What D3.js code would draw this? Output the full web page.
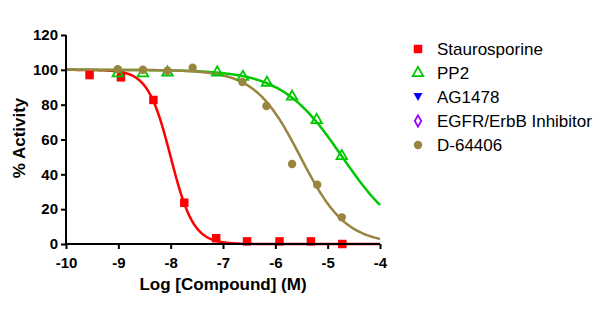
<!DOCTYPE html>
<html>
<head>
<meta charset="utf-8">
<script src="https://cdn.jsdelivr.net/npm/d3@7"></script>
<style>
  body { margin: 0; background: #fff; }
  svg { font-family: "Liberation Sans", Arial, sans-serif; }
</style>
</head>
<body>
<svg></svg>
<script>
var width = 600,
    height = 323;
var svg = d3.select("svg")
    .attr("width", width)
    .attr("height", height);

// data
var compounds = ["Staurosporine", "PP2", "AG1478", "EGFR/ErbB Inhibitor", "D-64406"];
var colors = ["#ff0000", "#00c800", "#0000ff", "#a000ff", "#9a8540"];
var symbols = ["square", "triangle", "triangleDown", "diamond", "circle"];

var stauroX = [-9.55, -8.95, -8.33, -7.74, -7.13, -6.54, -5.92, -5.32, -4.72];
var stauroY = [97, 95.7, 82.7, 23.7, 3.3, 1.5, 1.5, 1.5, 0];
var pp2X = [-9.01, -8.53, -8.06, -7.11, -6.62, -6.16, -5.68, -5.21, -4.73];
var pp2Y = [98, 98, 98.5, 98.5, 96, 92.6, 84.6, 71.2, 50.5];
var d64X = [-9.01, -8.53, -8.06, -7.58, -6.63, -6.17, -5.68, -5.2, -4.73];
var d64Y = [100.4, 100, 99.5, 101.2, 93, 79.2, 45.9, 34, 15.3];

// fitted curve parameters (top, bottom, logIC50, hill)
var fitTop = [100, 100, null, null, 100];
var fitBottom = [0, 0, null, null, 0];
var fitLogIC50 = [-8.0, -4.72, null, null, -5.52];
var fitHill = [2.0, 0.75, null, null, 1.0];

var xTicks = [-10, -9, -8, -7, -6, -5, -4];
var yTicks = [0, 20, 40, 60, 80, 100, 120];

var series = [
    {i: 0, x: stauroX, y: stauroY},
    {i: 1, x: pp2X, y: pp2Y},
    {i: 4, x: d64X, y: d64Y}
];

var margin = {left: 66, right: 220, top: 35, bottom: 79};
var x = d3.scaleLinear().domain([-10, -4]).range([margin.left, width - margin.right]);
var y = d3.scaleLinear().domain([0, 120]).range([height - margin.bottom, margin.top]);

function sym(name) {
    if (name == "square") return d3.symbol(d3.symbolSquare, 72)();
    if (name == "triangle") return d3.symbol(d3.symbolTriangle, 48)();
    if (name == "triangleDown") return "M-4.5,-4L4.5,-4L0,4Z";
    if (name == "diamond") return d3.symbol(d3.symbolDiamond, 36)();
    return d3.symbol(d3.symbolCircle, 56)();
}
function isHollow(name) { return name == "triangle" || name == "diamond"; }

// curves
var line = d3.line().x(d => x(d[0])).y(d => y(d[1]));
series.forEach(s => {
    var pts = d3.range(0, 301).map(k => {
        var lx = -10 + k * 6 / 300;
        var v = fitBottom[s.i] + (fitTop[s.i] - fitBottom[s.i]) /
            (1 + Math.pow(10, (lx - fitLogIC50[s.i]) * fitHill[s.i]));
        return [lx, v];
    });
    svg.append("path")
        .attr("d", line(pts))
        .attr("fill", "none")
        .attr("stroke", colors[s.i])
        .attr("stroke-width", 2.5);
});

// points
series.forEach(s => {
    var nm = symbols[s.i];
    svg.append("g").selectAll("path")
        .data(s.x.map((v, j) => [v, s.y[j]]))
        .enter().append("path")
        .attr("transform", d => "translate(" + x(d[0]) + "," + y(d[1]) + ")")
        .attr("d", sym(nm))
        .attr("fill", isHollow(nm) ? "none" : colors[s.i])
        .attr("stroke", isHollow(nm) ? colors[s.i] : "none")
        .attr("stroke-width", 1.8);
});

// axes
var xAxis = svg.append("g")
    .attr("transform", "translate(0," + y(0) + ")")
    .call(d3.axisBottom(x).tickValues(xTicks).tickSize(5).tickPadding(8).tickFormat(d3.format("d")));
var yAxis = svg.append("g")
    .attr("transform", "translate(" + x(-10) + ",0)")
    .call(d3.axisLeft(y).tickValues(yTicks).tickSize(5).tickPadding(3));
[xAxis, yAxis].forEach(a => {
    a.select(".domain").attr("stroke", "#000").attr("stroke-width", 2);
    a.selectAll(".tick line").attr("stroke", "#000").attr("stroke-width", 2);
    a.selectAll("text")
        .attr("fill", "#000")
        .style("font-size", "15px")
        .style("font-weight", "bold")
        .style("font-family", "Liberation Sans, Arial, sans-serif");
});
xAxis.selectAll(".tick text").text(d => d < 0 ? "-" + Math.abs(d) : d);
xAxis.select(".domain").attr("d", "M" + x(-10) + ",0H" + x(-4));
yAxis.select(".domain").attr("d", "M0," + y(0) + "V" + y(120));

svg.append("text")
    .attr("x", (x(-10) + x(-4)) / 2)
    .attr("y", 290)
    .attr("text-anchor", "middle")
    .style("font-size", "17px")
    .style("font-weight", "bold")
    .text("Log [Compound] (M)");
svg.append("text")
    .attr("transform", "translate(25,138) rotate(-90)")
    .attr("text-anchor", "middle")
    .style("font-size", "17px")
    .style("font-weight", "bold")
    .text("% Activity");

// legend
var legend = svg.append("g").attr("transform", "translate(418,49)");
compounds.forEach((c, i) => {
    var g = legend.append("g").attr("transform", "translate(0," + (i * 24) + ")");
    var nm = symbols[i];
    g.append("path")
        .attr("d", sym(nm))
        .attr("fill", isHollow(nm) ? "none" : colors[i])
        .attr("stroke", isHollow(nm) ? colors[i] : "none")
        .attr("stroke-width", 1.8);
    g.append("text")
        .attr("x", 19)
        .attr("y", 6)
        .style("font-size", "17px")
        .text(c);
});
</script>
</body>
</html>
